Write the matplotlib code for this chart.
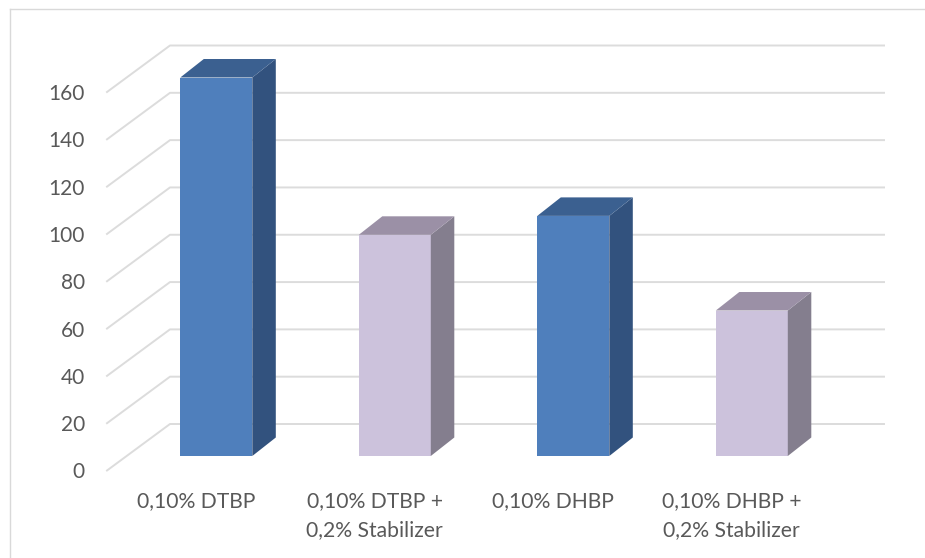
import matplotlib
matplotlib.use("Agg")
import matplotlib.pyplot as plt
from matplotlib.patches import Polygon
from matplotlib.lines import Line2D

# --- data ---
categories = ["0,10% DTBP", "0,10% DTBP +\n0,2% Stabilizer", "0,10% DHBP", "0,10% DHBP +\n0,2% Stabilizer"]
values = [160, 93.5, 101.5, 61.5]
y_ticks = [0, 20, 40, 60, 80, 100, 120, 140, 160]
front_colors = ["#4f7fbc", "#ccc2dc", "#4f7fbc", "#ccc2dc"]
side_colors = ["#32527e", "#847e8e", "#32527e", "#847e8e"]
top_colors = ["#3b6090", "#9b90a6", "#3b6090", "#9b90a6"]

W, H = 925, 558
PX_X = 178.5          # pixels per category
PX_Y = 378.5 / 160    # pixels per value unit
# oblique projection: depth (in px) -> offsets in data units
def dx(px): return px / PX_X
def dy(px): return px / PX_Y

plt.rcParams["font.family"] = ["Lato", "DejaVu Sans"]
fig = plt.figure(figsize=(W / 100, H / 100), dpi=100)
ax = fig.add_axes([107 / W, (H - 470.5) / H, (884 - 107) / W, (470.5 - 45) / H])
ax.set_xlim((107 - 216.3) / PX_X, (884 - 216.3) / PX_X)
ax.set_ylim(0, 425.5 / PX_Y)
ax.patch.set_visible(False)
for s in ax.spines.values():
    s.set_visible(False)

grid = "#dcdcdc"
x0 = ax.get_xlim()[0]
x1 = ax.get_xlim()[1]
wall_dx, wall_dy = dx(63), dy(46.5)
for t in y_ticks:
    ax.plot([x0, x0 + wall_dx, x1], [t, t + wall_dy, t + wall_dy],
            color=grid, lw=1.4, clip_on=False, zorder=1, solid_joinstyle="round")

bar_w = 72 / PX_X
base = dy(14.5)
d_x, d_y = dx(23.5), dy(18.5)
for i, v in enumerate(values):
    l, r = i - bar_w / 2, i + bar_w / 2
    b, t = base, base + v
    ax.add_patch(Polygon([(l, b), (r, b), (r, t), (l, t)], fc=front_colors[i], ec="none", zorder=3))
    ax.add_patch(Polygon([(r, b), (r + d_x, b + d_y), (r + d_x, t + d_y), (r, t)], fc=side_colors[i], ec="none", zorder=3))
    ax.add_patch(Polygon([(l, t), (r, t), (r + d_x, t + d_y), (l + d_x, t + d_y)], fc=top_colors[i], ec="none", zorder=3))

ax.set_yticks(y_ticks)
ax.set_yticklabels([str(t) for t in y_ticks])
ax.tick_params(axis="y", length=0, pad=16, labelsize=15, labelcolor="#595959")
ax.set_xticks([i - dx(20) for i in range(len(categories))])
ax.set_xticklabels(categories, linespacing=1.55)
ax.tick_params(axis="x", length=0, pad=15, labelsize=15.2, labelcolor="#595959")

# outer chart frame
fig.add_artist(Line2D([10 / W, 10 / W], [0, (H - 9) / H], color="#d9d9d9", lw=1.0))
fig.add_artist(Line2D([10 / W, 1], [(H - 9) / H, (H - 9) / H], color="#d9d9d9", lw=1.0))

fig.savefig("out.png", dpi=100)
